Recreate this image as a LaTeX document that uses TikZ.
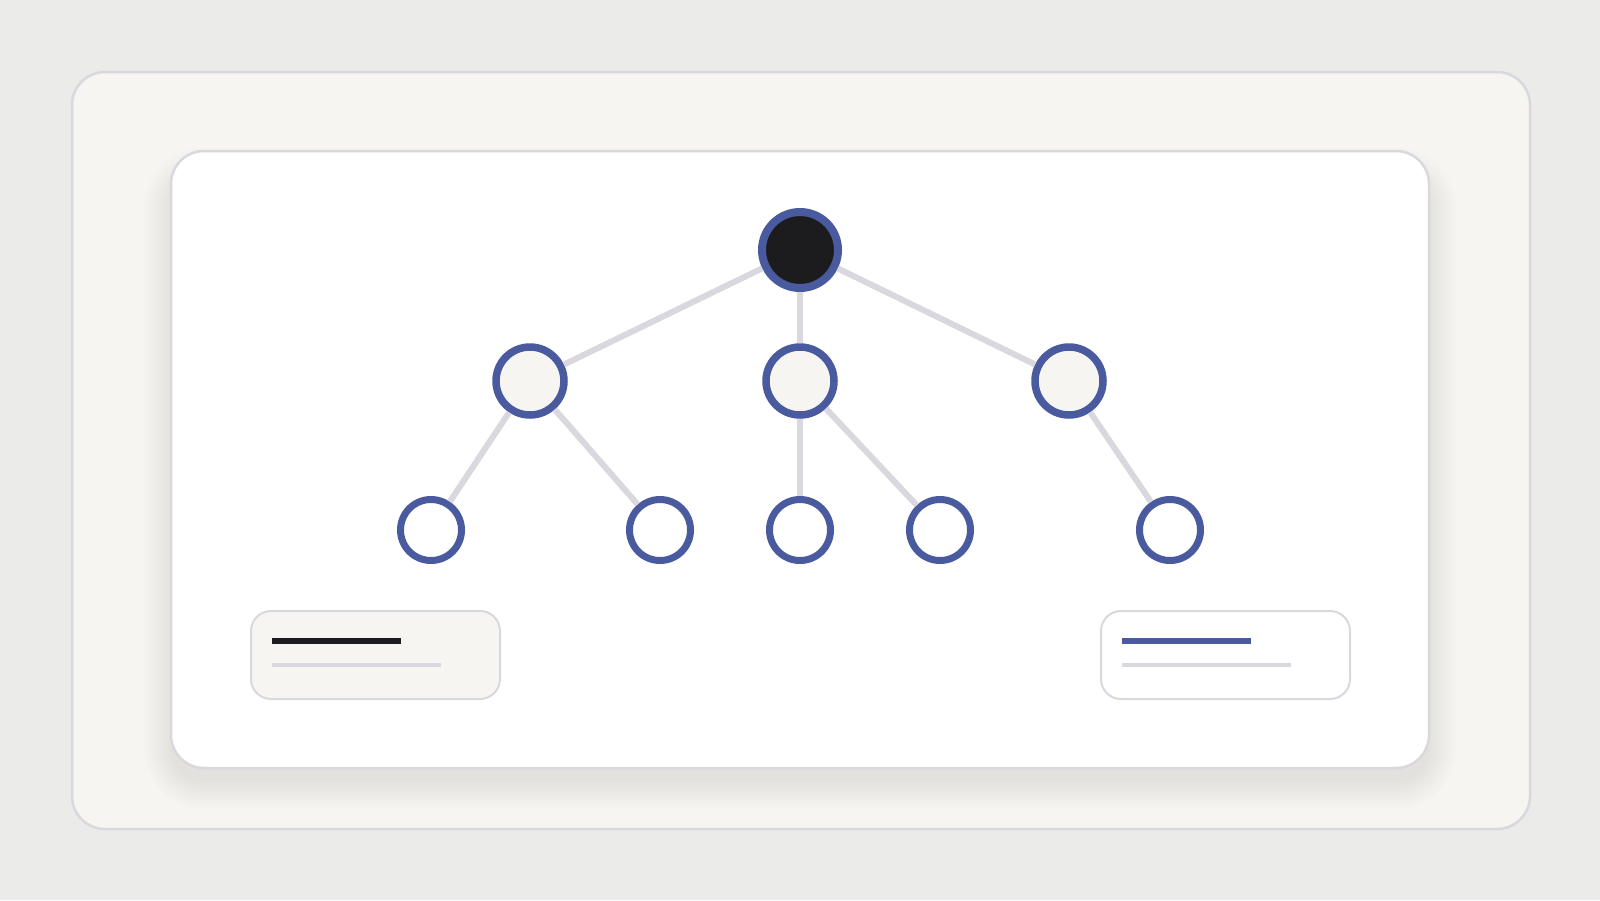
\documentclass[tikz,border=0pt]{standalone}
\definecolor{paper}{HTML}{EBEBE9}
\definecolor{cream}{HTML}{F6F5F1}
\definecolor{rim}{HTML}{D8D8DE}
\definecolor{ink}{HTML}{1C1C1E}
\definecolor{navy}{HTML}{4A5A9E}
\definecolor{haze}{HTML}{8A8670}
\tikzset{
  card/.style={draw=rim, line width=2.5pt, rounded corners=33pt},
  edge/.style={draw=rim, line width=6pt},
  top/.style={circle, draw=navy, fill=ink, line width=8pt, minimum size=76pt, inner sep=0pt},
  mid/.style={circle, draw=navy, fill=cream, line width=7.5pt, minimum size=68pt, inner sep=0pt},
  leaf/.style={circle, draw=navy, fill=white, line width=7pt, minimum size=61pt, inner sep=0pt},
  legend/.style={draw=rim, line width=2pt, rounded corners=20pt},
  bar/.style={line width=6pt},
  subbar/.style={draw=rim, line width=4pt}
}
\begin{document}
\begin{tikzpicture}[x=1pt, y=-1pt]
  \fill[paper] (0,0) rectangle (1600,900);
  \useasboundingbox (0,0) rectangle (1600,900);
  % cards
  \path[card, fill=cream] (72,72) rectangle (1530,829);
  \foreach \s in {0,3,...,27}
    \fill[haze, opacity=0.012, rounded corners=33pt+\s]
      (171-\s,175-\s) rectangle (1429+\s,782+\s);
  \path[card, fill=white] (171,151) rectangle (1429,768);
  % tree
  \node[top] (root) at (800,250) {};
  \node[mid] (a) at (530,381) {};
  \node[mid] (b) at (800,381) {};
  \node[mid] (c) at (1069,381) {};
  \node[leaf] (a1) at (431,530) {};
  \node[leaf] (a2) at (660,530) {};
  \node[leaf] (b1) at (800,530) {};
  \node[leaf] (b2) at (940,530) {};
  \node[leaf] (c1) at (1170,530) {};
  \foreach \u/\v in {root/a, root/b, root/c, a/a1, a/a2, b/b1, b/b2, c/c1}
    \draw[edge] (\u) -- (\v);
  % legend
  \path[legend, fill=cream] (251,611) rectangle (500,699);
  \coordinate (l1) at (272,641); \coordinate (l2) at (401,641);
  \coordinate (l3) at (272,665); \coordinate (l4) at (441,665);
  \draw[bar, ink] (l1) -- (l2);
  \draw[subbar] (l3) -- (l4);
  \path[legend, fill=white] (1101,611) rectangle (1350,699);
  \coordinate (r1) at (1122,641); \coordinate (r2) at (1251,641);
  \coordinate (r3) at (1122,665); \coordinate (r4) at (1291,665);
  \draw[bar, navy] (r1) -- (r2);
  \draw[subbar] (r3) -- (r4);
\end{tikzpicture}
\end{document}
